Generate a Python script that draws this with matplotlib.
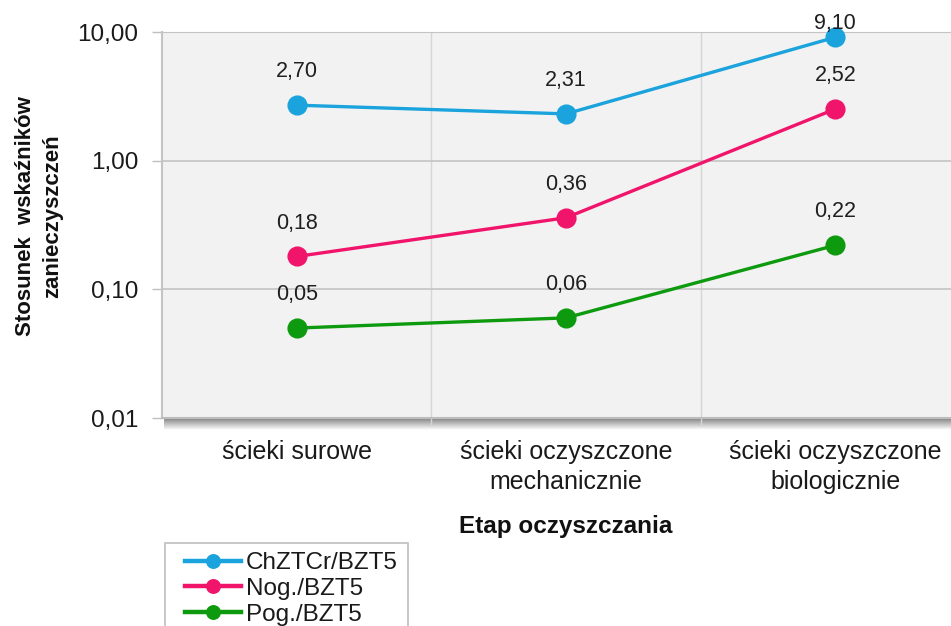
import matplotlib
matplotlib.use("Agg")
import matplotlib.pyplot as plt
import numpy as np
from matplotlib.ticker import FixedLocator, FuncFormatter, NullLocator
from matplotlib.patches import Rectangle

plt.rcParams['font.family'] = ['Liberation Sans', 'DejaVu Sans']

categories = ["ścieki surowe", "ścieki oczyszczone\nmechanicznie", "ścieki oczyszczone\nbiologicznie"]
series_names = ["ChZTCr/BZT5", "Nog./BZT5", "Pog./BZT5"]
chzt = [2.70, 2.31, 9.10]
nog = [0.18, 0.36, 2.52]
pog = [0.05, 0.06, 0.22]
colors = ["#1AA3DC", "#F0146B", "#0E9A0E"]
y_ticks = [0.01, 0.1, 1, 10]
y_title = "Stosunek  wskaźników\nzanieczyszczeń"
x_title = "Etap oczyszczania"

W, H = 951, 626
fig = plt.figure(figsize=(W / 100, H / 100), dpi=100)

# axes geometry (pixels)
L, T, B = 162, 32, 418
x_unit = 269.3
R = L + 3 * x_unit

# shadow below plot area
sh = fig.add_axes([(L + 2) / W, 1 - (B + 12) / H, (R - L) / W, 12 / H])
grad = np.linspace(0, 1, 50).reshape(-1, 1)
sh.imshow(grad, aspect='auto', cmap='gray', vmin=-0.9, vmax=1.0,
          extent=[0, 1, 0, 1], interpolation='bilinear')
sh.set_axis_off()

ax = fig.add_axes([L / W, 1 - B / H, (R - L) / W, (B - T) / H])
ax.set_facecolor("#F2F2F2")
ax.set_zorder(2)

x = np.arange(len(categories))
for vals, name, c in zip([chzt, nog, pog], series_names, colors):
    ax.plot(x, vals, color=c, lw=2.4, marker='o', markersize=13.5, label=name,
            zorder=4, clip_on=False)
    for xi, v in zip(x, vals):
        off = 10 if np.log10(v) > 0.9 else 24
        ax.annotate(f"{v:.2f}".replace('.', ','), (xi, v), xytext=(0, off),
                    textcoords='offset points', ha='center', va='center',
                    fontsize=15.5, color="#1F1F1F", zorder=5)

ax.set_yscale('log')
ax.set_ylim(0.01, 10)
ax.set_xlim(-0.5, 2.5)

ax.yaxis.set_major_locator(FixedLocator(y_ticks))
ax.yaxis.set_minor_locator(NullLocator())
ax.yaxis.set_major_formatter(FuncFormatter(lambda v, p: f"{v:.2f}".replace('.', ',')))

ax.set_xticks(x)
ax.set_xticklabels(categories, linespacing=1.3)
ax.set_xticks([0.5, 1.5], minor=True)

ax.tick_params(axis='y', which='major', direction='out', length=7, width=1,
               color="#BFBFBF", labelsize=17.5, labelcolor="#1A1A1A", pad=10)
ax.tick_params(axis='x', which='major', length=0, labelsize=18,
               labelcolor="#1A1A1A", pad=16)
ax.tick_params(axis='x', which='minor', direction='out', length=6, width=1,
               color="#D6D6D6")

ax.grid(True, axis='y', which='major', color="#C4C4C4", lw=1.2, zorder=1)
ax.grid(True, axis='x', which='minor', color="#D6D6D6", lw=1.0, zorder=1)
ax.set_axisbelow(True)

ax.spines['right'].set_visible(False)
ax.spines['top'].set_color("#C4C4C4")
ax.spines['left'].set_color("#C4C4C4")
ax.spines['left'].set_linewidth(1.5)
ax.spines['bottom'].set_color("#BDBDBD")
ax.spines['bottom'].set_linewidth(1.5)

ax.set_xlabel(x_title, fontsize=17.5, fontweight='bold', color="#111111", labelpad=15)
ax.set_ylabel(y_title, fontsize=16, fontweight='bold', color="#111111",
              linespacing=1.4, va='center', ha='center')
ax.yaxis.set_label_coords((39 - L) / (R - L), (B - 216) / (B - T))

# legend frame (extends below the figure edge, like the reference crop)
fig.patches.append(Rectangle((165 / W, 1 - 650 / H), (408 - 165) / W, (650 - 543) / H,
                             transform=fig.transFigure, facecolor="white",
                             edgecolor="#BFBFBF", lw=1.2, zorder=0))

leg = fig.legend(loc='upper left', bbox_to_anchor=(185 / W, 1 - 552 / H),
                 frameon=False, fontsize=17.5,
                 handlelength=2.3, handletextpad=0.2, labelspacing=0.16,
                 borderpad=0, borderaxespad=0, markerscale=0.72)
for t in leg.get_texts():
    t.set_color("#1A1A1A")
for ln in leg.get_lines():
    ln.set_linewidth(3.2)

fig.savefig("out.png", dpi=100)
